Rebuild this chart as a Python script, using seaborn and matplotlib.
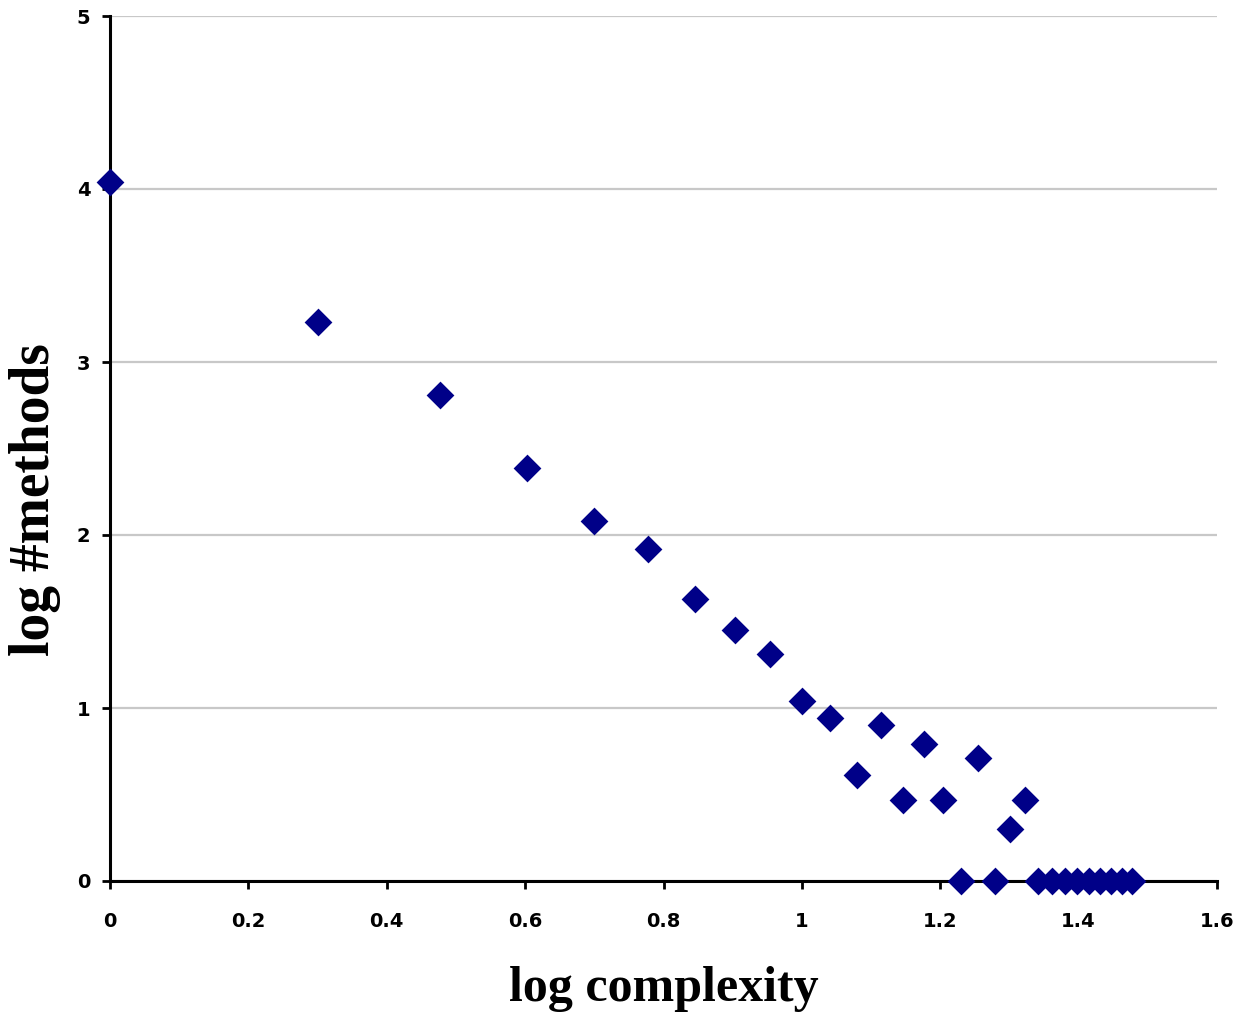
import matplotlib
matplotlib.use("Agg")
import matplotlib.pyplot as plt
import pandas as pd
import seaborn as sns

# log10 of method complexity and log10 of the number of methods with that complexity
log_complexity = [0.0, 0.301, 0.477, 0.602, 0.699, 0.778, 0.845, 0.903, 0.954, 1.0,
                  1.041, 1.079, 1.114, 1.146, 1.176, 1.204, 1.230, 1.255, 1.279, 1.301,
                  1.322, 1.342, 1.362, 1.380, 1.398, 1.415, 1.431, 1.447, 1.462, 1.477]
log_methods = [4.04, 3.23, 2.81, 2.39, 2.08, 1.92, 1.63, 1.45, 1.31, 1.04,
               0.94, 0.61, 0.90, 0.47, 0.79, 0.47, 0.0, 0.71, 0.0, 0.30,
               0.47, 0.0, 0.0, 0.0, 0.0, 0.0, 0.0, 0.0, 0.0, 0.0]

x_ticks = [0, 0.2, 0.4, 0.6, 0.8, 1.0, 1.2, 1.4, 1.6]
x_tick_labels = ["0", "0.2", "0.4", "0.6", "0.8", "1", "1.2", "1.4", "1.6"]
y_ticks = [0, 1, 2, 3, 4, 5]
y_tick_labels = ["0", "1", "2", "3", "4", "5"]

df = pd.DataFrame({"log complexity": log_complexity, "log #methods": log_methods})

sns.set_style("white")
fig, ax = plt.subplots(figsize=(12.35, 10.17), dpi=100)
fig.subplots_adjust(left=110 / 1235, right=1217 / 1235,
                    top=1 - 16 / 1017, bottom=1 - 881 / 1017)

sns.scatterplot(data=df, x="log complexity", y="log #methods", marker="D",
                s=200, color="#000088", linewidth=0, ax=ax,
                clip_on=False, zorder=3)

ax.set_xlim(0, 1.6)
ax.set_ylim(0, 5)

ax.set_xticks(x_ticks)
ax.set_xticklabels(x_tick_labels)
ax.set_yticks(y_ticks)
ax.set_yticklabels(y_tick_labels)

ax.yaxis.grid(True, color="#C8C8C8", linewidth=1.6)
ax.xaxis.grid(False)
ax.set_axisbelow(True)

for side in ("top", "right"):
    ax.spines[side].set_visible(False)
for side in ("left", "bottom"):
    ax.spines[side].set_color("black")
    ax.spines[side].set_linewidth(2.2)

ax.tick_params(axis="both", which="major", direction="out", length=6, width=2,
               color="black", labelcolor="black", bottom=True, left=True)
ax.tick_params(axis="x", pad=16)
ax.tick_params(axis="y", pad=8)
for lbl in ax.get_xticklabels() + ax.get_yticklabels():
    lbl.set_fontfamily("DejaVu Sans")
    lbl.set_fontweight("bold")
    lbl.set_fontsize(14)

ax.set_xlabel("log complexity", fontfamily="Liberation Serif",
              fontweight="bold", fontsize=36, color="black")
ax.set_ylabel("log #methods", fontfamily="Liberation Serif",
              fontweight="bold", fontsize=40, color="black")
ax.xaxis.set_label_coords(0.5, -0.098)
ax.yaxis.set_label_coords(-0.044, 0.441)

fig.savefig("out.png", dpi=100)
